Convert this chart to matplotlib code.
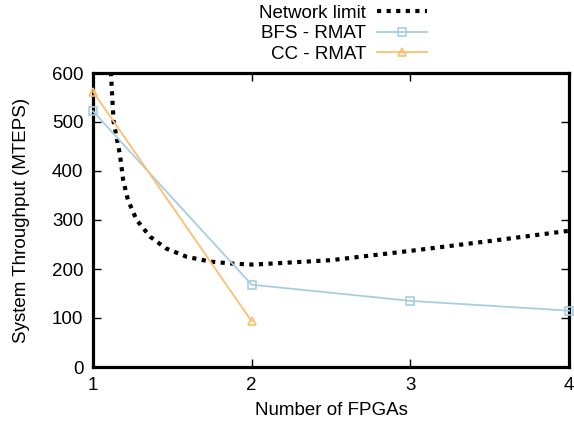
import matplotlib
matplotlib.use('Agg')
import matplotlib.pyplot as plt
import numpy as np

plt.rcParams['font.family'] = ['Liberation Sans', 'DejaVu Sans']

# data
fpgas = [1, 2, 3, 4]
bfs_rmat = [522, 168, 135, 115]
cc_fpgas = [1, 2]
cc_rmat = [562, 93]

# network limit curve
net_x = [1.10, 1.113, 1.13, 1.17, 1.19, 1.22, 1.275, 1.36, 1.46, 1.59, 1.74, 1.88, 2.01,
         2.50, 3.00, 3.50, 4.00]
net_y = [680, 600, 500, 433, 382, 341, 300, 266, 242, 225, 215, 211, 209,
         218, 237, 257, 278]

fig = plt.figure(figsize=(5.74, 4.25), dpi=100)
ax = fig.add_axes([93/574, 58/425, 476/574, 294/425])

ax.plot(net_x, net_y, color='black', linewidth=3, dashes=(1.0, 1.3),
        label='Network limit', zorder=3)
ax.plot(fpgas, bfs_rmat, color='#a6cee3', marker='s', markersize=6,
        markerfacecolor='none', markeredgewidth=1.2, linewidth=1.3,
        label='BFS - RMAT', clip_on=False, zorder=4)
ax.plot(cc_fpgas, cc_rmat, color='#fdbf6f', marker='^', markersize=6,
        markerfacecolor='none', markeredgewidth=1.2, linewidth=1.3,
        label='CC - RMAT', clip_on=False, zorder=4)

ax.set_xlim(1, 4)
ax.set_ylim(0, 600)
ax.set_xticks([1, 2, 3, 4])
ax.set_yticks(range(0, 601, 100))
ax.tick_params(direction='in', top=True, right=True, length=6, width=1,
               labelsize=13.5, pad=7)
for s in ax.spines.values():
    s.set_linewidth(2.3)

ax.set_xlabel('Number of FPGAs', fontsize=13.5, labelpad=6)
ax.set_ylabel('System Throughput (MTEPS)', fontsize=13.5, labelpad=16)

ax.legend(loc='upper right', bbox_to_anchor=(0.702, 1.232), frameon=False,
          markerfirst=False, fontsize=13.5, handlelength=2.7, labelspacing=0.18,
          borderpad=0, handletextpad=0.55, borderaxespad=0)

fig.savefig('out.png', dpi=100)
